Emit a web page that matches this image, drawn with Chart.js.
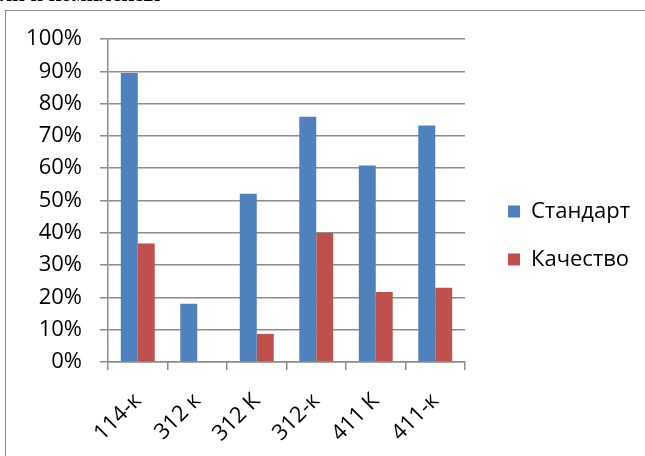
<!DOCTYPE html>
<html lang="ru">
<head>
<meta charset="utf-8">
<title>Стандарт и Качество</title>
<script src="https://cdn.jsdelivr.net/npm/chart.js@4.4.4/dist/chart.umd.min.js"></script>
<style>
  html, body { margin: 0; padding: 0; background: #fff; }
  .stage { position: fixed; left: 0; top: 0; width: 645px; height: 456px; overflow: hidden; }
  /* обрывок заголовка над рамкой */
  .hdr {
    position: absolute; left: 0; top: -17px;
    font: bold 22px 'Liberation Serif', serif; line-height: 22px; color: #000;
    white-space: nowrap;
  }
  /* рамка диаграммы уходит за край кадра: видны только верх и левая сторона */
  .frame {
    position: absolute; left: 5px; top: 10px;
    width: 640px; height: 446px;
    border-top: 1.5px solid #8c8c8c;
    border-left: 1.5px solid #8c8c8c;
    box-sizing: border-box;
  }
  #chart { position: absolute; left: 0; top: 0; }
</style>
</head>
<body>
<div class="stage">
  <div class="hdr">ли и комплексы</div>
  <div class="frame"></div>
  <canvas id="chart" width="645" height="456"></canvas>
</div>

<script>
/* ── Данные ── */
const groups    = ['114-к', '312 к', '312 К', '312-к', '411 К', '411-к'];
const standart  = [89.5, 18.0, 52.1, 75.9, 60.8, 73.2];
const kachestvo = [36.7, 0, 8.7, 39.9, 21.7, 23.0];
const yTicks    = [0, 10, 20, 30, 40, 50, 60, 70, 80, 90, 100];

const BLUE = '#4f81bd';
const RED  = '#c0504d';
const GRID = '#8c8c8c';
const FONT = { family: "'Open Sans', sans-serif", size: 22 };

/* ставит легенду с зазором после области построения и чуть выше */
const legendGap = {
  id: 'legendGap',
  afterLayout(chart) {
    const lg = chart.legend;
    lg.left += 17;
    lg.right += 17;
    lg.top -= 12;
    lg.bottom -= 12;
  }
};

new Chart(document.getElementById('chart'), {
  type: 'bar',
  data: {
    labels: groups,
    datasets: [
      { label: 'Стандарт', data: standart, backgroundColor: BLUE },
      { label: 'Качество', data: kachestvo, backgroundColor: RED }
    ]
  },
  options: {
    responsive: false,
    animation: false,
    categoryPercentage: 0.57,
    barPercentage: 1.0,
    layout: { padding: { top: 39, bottom: 0, left: 0, right: 25 } },
    plugins: {
      tooltip: { enabled: false },
      legend: {
        position: 'right',
        labels: {
          boxWidth: 12, boxHeight: 12, padding: 26,
          color: '#000', font: FONT
        }
      }
    },
    scales: {
      x: {
        afterFit: s => { s.height = 94; },
        grid: { drawOnChartArea: false, drawTicks: true, tickLength: 8, color: GRID, lineWidth: 1.5 },
        border: { color: GRID, width: 1.5 },
        ticks: {
          autoSkip: false, maxRotation: 45, minRotation: 45,
          padding: 18, color: '#000', font: FONT
        }
      },
      y: {
        min: 0, max: 100,
        afterFit: s => { s.width = 108; },
        afterBuildTicks: s => { s.ticks = yTicks.map(v => ({ value: v })); },
        grid: { color: GRID, lineWidth: 1.5, tickLength: 8 },
        border: { color: GRID, width: 1.5 },
        ticks: {
          padding: 18, color: '#000', font: FONT,
          callback: v => v + '%'
        }
      }
    }
  },
  plugins: [legendGap]
});
</script>
</body>
</html>
